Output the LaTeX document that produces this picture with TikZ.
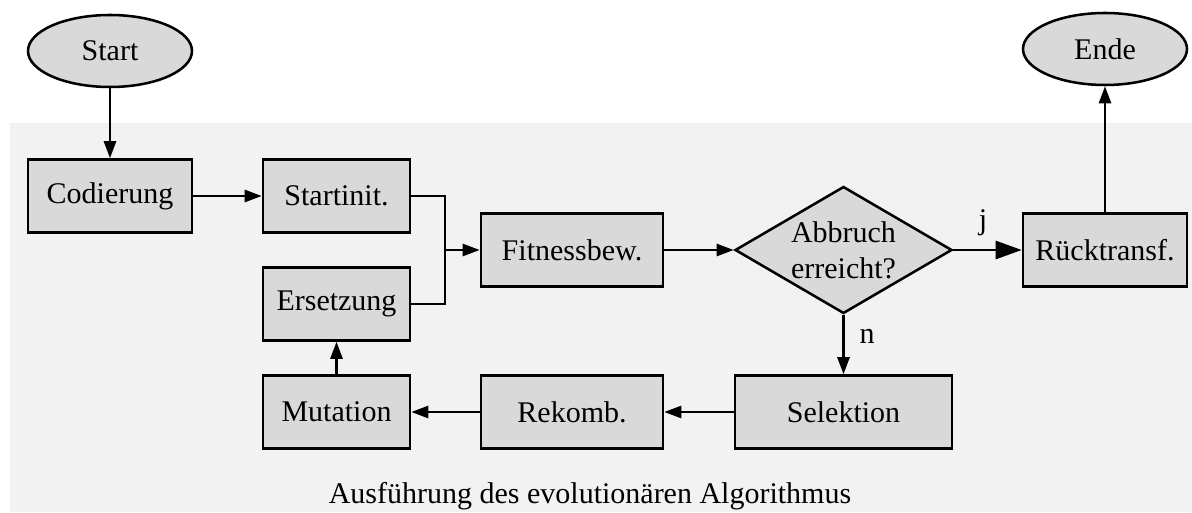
\documentclass[tikz,border=0pt]{standalone}
\usepackage{fontspec}
\setmainfont{Liberation Serif}
\usetikzlibrary{arrows.meta,shapes.geometric}
\definecolor{boxfill}{HTML}{D9D9D9}
\definecolor{clusterbg}{HTML}{F2F2F2}
\begin{document}
\begin{tikzpicture}[x=0.75pt,y=-0.75pt,
  font=\fontsize{22.5pt}{27pt}\selectfont,
  base/.style={draw=black,line width=1.9pt,fill=boxfill,inner sep=0pt,align=center},
  proc/.style={base,rectangle,minimum height=54.75pt},
  term/.style={base,ellipse,minimum width=123pt,minimum height=54pt},
  decide/.style={base,diamond,minimum width=162.75pt,minimum height=95.25pt,aspect=1.7},
  flow/.style={line width=1.9pt,-{Triangle[length=12.75pt,width=9pt]}},
  bigflow/.style={line width=1.9pt,-{Triangle[length=19.5pt,width=13.5pt]}},
  plain/.style={line width=1.9pt},
  lbl/.style={inner sep=0pt,anchor=base}]
  \useasboundingbox (0,0) rectangle (1192,513);
  % cluster background
  \fill[clusterbg] (10,123) rectangle (1192,512);
  \node[lbl] (caption) at (590,503) {Ausführung des evolutionären Algorithmus};

  % terminals
  \node[term] (start) at (110,51) {Start};
  \node[term] (ende) at (1105,49) {Ende};

  % process steps
  \node[proc,minimum width=123pt] (cod) at (110,196) {Codierung};
  \node[proc,minimum width=110.25pt] (sinit) at (336.5,196) {Startinit.};
  \node[proc,minimum width=110.25pt] (ers) at (336.5,304) {Ersetzung};
  \node[proc,minimum width=110.25pt] (mut) at (336.5,412) {Mutation};
  \node[proc,minimum width=136.5pt] (fit) at (572,250) {Fitnessbew.};
  \node[proc,minimum width=136.5pt] (rek) at (572,412) {Rekomb.};
  \node[proc,minimum width=162.75pt] (sel) at (843.5,412) {Selektion};
  \node[decide] (abb) at (843.5,250) {Abbruch\\erreicht?};
  \node[proc,minimum width=123pt] (rt) at (1105,250) {Rücktransf.};

  % connectors
  \coordinate (merge) at (445,250);
  \draw[flow] (start) -- (cod);
  \draw[flow] (cod) -- (sinit);
  \draw[plain] (sinit.east) -| (merge);
  \draw[plain] (ers.east) -| (merge);
  \draw[flow] (merge) -- (fit.west);
  \draw[flow] (fit) -- (abb);
  \draw[bigflow] (abb.east) -- (rt.west);
  \draw[flow] (rt) -- (ende);
  \draw[flow] (abb.south) -- (sel.north);
  \draw[flow] (sel) -- (rek);
  \draw[flow] (rek) -- (mut);
  \draw[flow] (mut) -- (ers);

  % branch labels
  \node[lbl] (ja) at (983,230) {j};
  \node[lbl] (nein) at (867,343) {n};
\end{tikzpicture}
\end{document}
